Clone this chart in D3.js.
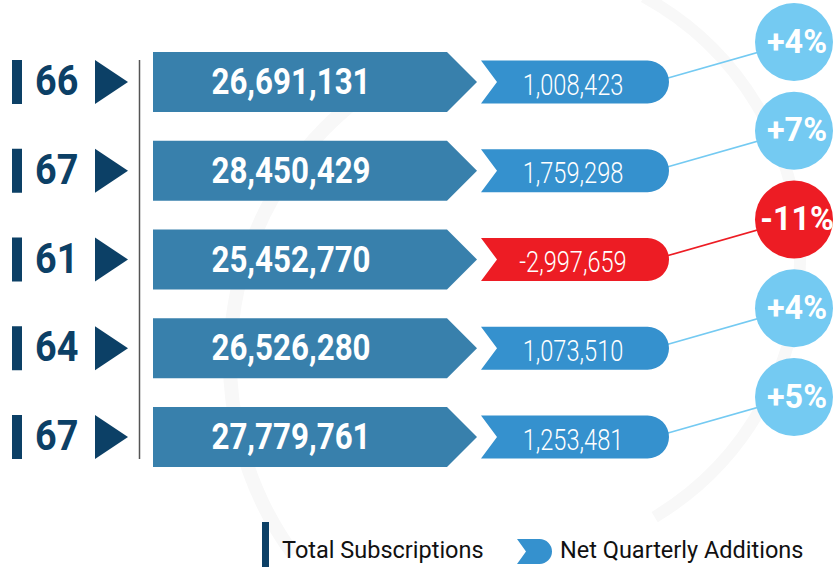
<!DOCTYPE html>
<html>
<head>
<meta charset="utf-8">
<script src="https://cdn.jsdelivr.net/npm/d3@7"></script>
<style>
  body { margin: 0; background: #fff; }
  svg { display: block; }
  text { font-family: Roboto, "Noto Sans", sans-serif; }
  .legend text { font-size: 23.5px; fill: #111; }
</style>
</head>
<body>
<svg width="833" height="567"></svg>
<script>
// values, top row first
var labels = ["66", "67", "61", "64", "67"];
var totals = [26691131, 28450429, 25452770, 26526280, 27779761];
var additions = [1008423, 1759298, -2997659, 1073510, 1253481];
var changes = [4, 7, -11, 4, 5];

var colors = {
    "navy": "#0c4066",
    "bar": "#3880ac",
    "add": "#3591ce",
    "up": "#74caf2",
    "down": "#ed1c24"
};

var rows = labels.map(function(d, i) {
    return {
        label: d,
        total: totals[i],
        add: additions[i],
        change: changes[i]
    };
});

var svg = d3.select("svg"),
    width = +svg.attr("width"),
    height = +svg.attr("height");

var fmt = function(v) { return d3.format(",")(v).replace("\u2212", "-"); };

// row centres
var y = d3.scalePoint()
    .domain(d3.range(rows.length))
    .range([82, 437]);

// very faint watermark behind everything
var wm = svg.append("g")
    .attr("fill", "none")
    .attr("stroke", "#f8f8f8");

wm.append("path")
    .attr("stroke-width", 14)
    .attr("d", d3.arc()({innerRadius: 330, outerRadius: 330, startAngle: -2.2, endAngle: -0.6}))
    .attr("transform", "translate(560,360)");
wm.append("path")
    .attr("stroke-width", 12)
    .attr("d", d3.arc()({innerRadius: 300, outerRadius: 300, startAngle: 0.5, endAngle: 2.6}))
    .attr("transform", "translate(500,260)");

// divider line
svg.append("line")
    .attr("x1", 139.5).attr("x2", 139.5)
    .attr("y1", y(0) - 22).attr("y2", y(rows.length - 1) + 22)
    .attr("stroke", "#555")
    .attr("stroke-width", 1.5);

var row = svg.selectAll(".row")
    .data(rows)
    .enter().append("g")
      .attr("class", "row")
      .attr("transform", function(d, i) { return "translate(0," + y(i) + ")"; });

// left label block
row.append("rect")
    .attr("x", 12).attr("y", -22)
    .attr("width", 10).attr("height", 44)
    .attr("fill", colors.navy);

row.append("text")
    .attr("transform", "translate(35,13) scale(0.9,1)")
    .attr("font-size", 42)
    .attr("font-weight", "bold")
    .attr("fill", colors.navy)
    .text(function(d) { return d.label; });

row.append("path")
    .attr("d", "M95,-22L128,0L95,22Z")
    .attr("fill", colors.navy);

// total subscriptions arrow
row.append("path")
    .attr("d", "M153,-30H447L477,0L447,30H153Z")
    .attr("fill", colors.bar);

row.append("text")
    .attr("transform", "translate(291,12) scale(0.87,1)")
    .attr("text-anchor", "middle")
    .attr("font-size", 36)
    .attr("font-weight", "bold")
    .attr("fill", "#fff")
    .text(function(d) { return fmt(d.total); });

// connector to the change bubble
row.append("line")
    .attr("x1", 668).attr("y1", -4)
    .attr("x2", 794).attr("y2", -40)
    .attr("stroke", function(d) { return d.add < 0 ? colors.down : colors.up; })
    .attr("stroke-width", 1.8);

// net additions tag
function tag(x0, w, h, notch) {
    var r = h / 2;
    return "M" + x0 + "," + (-r) + "H" + (x0 + w - r) +
        "A" + r + "," + r + " 0 0 1 " + (x0 + w - r) + "," + r +
        "H" + x0 + "L" + (x0 + notch) + ",0Z";
}

row.append("path")
    .attr("d", tag(481, 188, 43, 16))
    .attr("fill", function(d) { return d.add < 0 ? colors.down : colors.add; });

row.append("text")
    .attr("transform", "translate(573,12.5) scale(0.8,1)")
    .attr("text-anchor", "middle")
    .attr("font-size", 29.5)
    .attr("font-weight", 300)
    .attr("fill", "#fff")
    .text(function(d) { return fmt(d.add); });

// change bubble
row.append("circle")
    .attr("cx", 794).attr("cy", -40)
    .attr("r", 39)
    .attr("fill", function(d) { return d.change < 0 ? colors.down : colors.up; });

row.append("text")
    .attr("transform", "translate(797,-29.5) scale(0.95,1)")
    .attr("text-anchor", "middle")
    .attr("font-size", 34)
    .attr("font-weight", "bold")
    .attr("fill", "#fff")
    .text(function(d) { return (d.change > 0 ? "+" : "") + d.change + "%"; });

// legend
var legend = svg.append("g").attr("class", "legend");

legend.append("rect")
    .attr("x", 262).attr("y", 522)
    .attr("width", 7).attr("height", 50)
    .attr("fill", colors.navy);

legend.append("text")
    .attr("x", 282).attr("y", 558)
    .text("Total Subscriptions");

legend.append("path")
    .attr("d", tag(517, 35, 25, 9))
    .attr("transform", "translate(0,551.5)")
    .attr("fill", colors.add);

legend.append("text")
    .attr("x", 560).attr("y", 558)
    .text("Net Quarterly Additions");
</script>
</body>
</html>
